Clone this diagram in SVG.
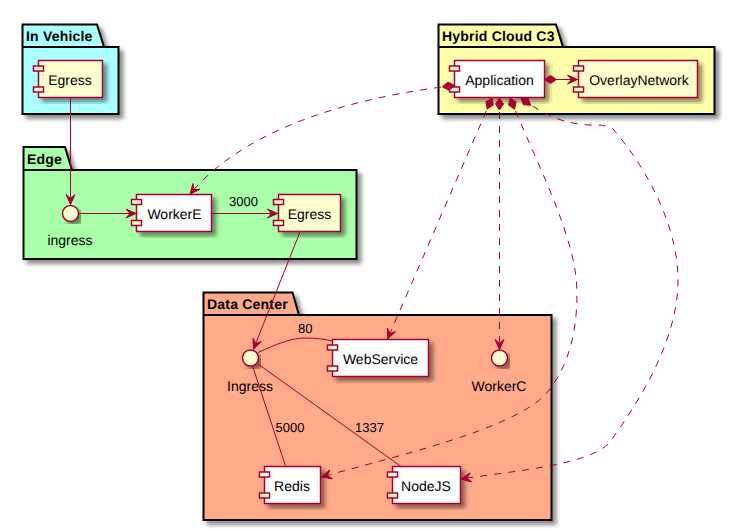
<svg xmlns="http://www.w3.org/2000/svg" width="735" height="531" viewBox="0 0 735 531">
<style>
text{font-family:"Liberation Sans",Arial,sans-serif;font-size:14px;fill:#000;text-rendering:geometricPrecision}
.lbl{font-size:13px}
.pt{font-weight:bold;letter-spacing:.2px}
.pk{stroke:#000;stroke-width:2;filter:url(#sh)}
.c{stroke:#A80036;stroke-width:1.5;fill:#FEFECE}
.w{fill:#fff}
.sr{stroke:#A80036;stroke-width:1.5;fill:#FEFECE}
.cn{fill:none;stroke:#A80036;stroke-width:1}
.d{stroke-dasharray:7,7}
.a{marker-end:url(#ar)}
.s{marker-start:url(#di)}
</style>
<defs>
<filter id="sh" x="-10%" y="-10%" width="125%" height="125%">
<feGaussianBlur in="SourceAlpha" stdDeviation="2"/>
<feOffset dx="4" dy="4"/>
<feComponentTransfer><feFuncA type="linear" slope="0.45"/></feComponentTransfer>
<feMerge><feMergeNode/><feMergeNode in="SourceGraphic"/></feMerge>
</filter>
<marker id="ar" markerUnits="userSpaceOnUse" markerWidth="14" markerHeight="12" viewBox="-11 -6 14 12" refX="0" refY="0" orient="auto" overflow="visible">
<path d="M-10,-4.5 L0,0 L-10,4.5 L-6,0 Z" fill="#A80036" stroke="#A80036"/>
</marker>
<marker id="di" markerUnits="userSpaceOnUse" markerWidth="14" markerHeight="10" viewBox="0 -5 14 10" refX="0" refY="0" orient="auto" overflow="visible">
<path d="M0,0 L6,-4 L12,0 L6,4 Z" fill="#A80036" stroke="#A80036"/>
</marker>
</defs>
<g id="pkg-in-vehicle">
<path class="pk" fill="#AAFFFF" d="M22.5,33 L22.5,24.5 L97,24.5 L104,47 L118.5,47 L118.5,114 L22.5,114 Z"/>
<path d="M22.5,47 L104,47" stroke="#000" stroke-width="2" fill="none"/>
<text class="pt" x="26" y="41">In Vehicle</text>
</g>
<g id="pkg-edge">
<path class="pk" fill="#AAFFAA" d="M23.5,156 L23.5,147 L65,147 L72,170 L356.5,170 L356.5,259 L23.5,259 Z"/>
<path d="M23.5,170 L72,170" stroke="#000" stroke-width="2" fill="none"/>
<text class="pt" x="27" y="164">Edge</text>
</g>
<g id="pkg-hybrid-cloud">
<path class="pk" fill="#FFFFAA" d="M438.5,33 L438.5,24.5 L556,24.5 L563,47 L714.5,47 L714.5,114 L438.5,114 Z"/>
<path d="M438.5,47 L563,47" stroke="#000" stroke-width="2" fill="none"/>
<text class="pt" x="442" y="41">Hybrid Cloud C3</text>
</g>
<g id="pkg-data-center">
<path class="pk" fill="#FFAA88" d="M203.5,301 L203.5,292.5 L292.5,292.5 L299,315 L551.5,315 L551.5,520 L203.5,520 Z"/>
<path d="M203.5,315 L299,315" stroke="#000" stroke-width="2" fill="none"/>
<text class="pt" x="207" y="309">Data Center</text>
</g>
<g id="vehicle-egress">
<rect class="c" filter="url(#sh)" x="38.5" y="60.5" width="64" height="37"/>
<rect class="sr" x="33.5" y="66" width="10" height="5"/><rect class="sr" x="33.5" y="87" width="10" height="5"/>
<text x="70" y="85" text-anchor="middle">Egress</text>
</g>
<g id="edge-ingress">
<circle class="c" filter="url(#sh)" cx="70.5" cy="213.5" r="8"/>
<text x="70" y="245" text-anchor="middle">ingress</text>
</g>
<g id="worker-e">
<rect class="c w" filter="url(#sh)" x="136.5" y="194.5" width="75" height="37"/>
<rect class="sr" x="131.5" y="199.5" width="10" height="5"/><rect class="sr" x="131.5" y="220.5" width="10" height="5"/>
<text x="174.5" y="219" text-anchor="middle">WorkerE</text>
</g>
<g id="edge-egress">
<rect class="c" filter="url(#sh)" x="278.5" y="194.5" width="62" height="37"/>
<rect class="sr" x="273.5" y="199.5" width="10" height="5"/><rect class="sr" x="273.5" y="220.5" width="10" height="5"/>
<text x="309.5" y="219" text-anchor="middle">Egress</text>
</g>
<g id="application">
<rect class="c w" filter="url(#sh)" x="454.5" y="60.5" width="90" height="37"/>
<rect class="sr" x="449.5" y="66" width="10" height="5"/><rect class="sr" x="449.5" y="87" width="10" height="5"/>
<text x="499.5" y="85" text-anchor="middle">Application</text>
</g>
<g id="overlay-network">
<rect class="c" filter="url(#sh)" x="578.5" y="60.5" width="119" height="37"/>
<rect class="sr" x="573.5" y="66" width="10" height="5"/><rect class="sr" x="573.5" y="87" width="10" height="5"/>
<text x="639" y="85" text-anchor="middle">OverlayNetwork</text>
</g>
<g id="dc-ingress">
<circle class="c" filter="url(#sh)" cx="250.5" cy="358" r="8"/>
<text x="250" y="391" text-anchor="middle">Ingress</text>
</g>
<g id="web-service">
<rect class="c w" filter="url(#sh)" x="332.5" y="339.5" width="96" height="37"/>
<rect class="sr" x="327.5" y="345" width="10" height="5"/><rect class="sr" x="327.5" y="366" width="10" height="5"/>
<text x="380.5" y="364" text-anchor="middle">WebService</text>
</g>
<g id="worker-c">
<circle class="c" filter="url(#sh)" cx="499.5" cy="358" r="8"/>
<text x="499" y="391" text-anchor="middle">WorkerC</text>
</g>
<g id="redis">
<rect class="c w" filter="url(#sh)" x="264.5" y="466.5" width="56" height="37"/>
<rect class="sr" x="259.5" y="472" width="10" height="5"/><rect class="sr" x="259.5" y="493" width="10" height="5"/>
<text x="292" y="491" text-anchor="middle">Redis</text>
</g>
<g id="nodejs">
<rect class="c w" filter="url(#sh)" x="392.5" y="466.5" width="68" height="37"/>
<rect class="sr" x="387.5" y="472" width="10" height="5"/><rect class="sr" x="387.5" y="493" width="10" height="5"/>
<text x="426" y="491" text-anchor="middle">NodeJS</text>
</g>
<g id="connectors">
<path class="cn a" d="M70.5,98 L70.5,204.5"/>
<path class="cn a" d="M79,213.5 L136,213.5"/>
<path class="cn a" d="M212,213.5 L277.5,213.5"/>
<text class="lbl" x="229" y="206">3000</text>
<path class="cn a" d="M300,232 L253.5,349"/>
<path class="cn" d="M258,352.5 C275,345 290,338 305,338 C315,338 325,339 332.5,341"/>
<text class="lbl" x="298" y="333">80</text>
<path class="cn" d="M252.5,366 L285.5,466"/>
<text class="lbl" x="275.5" y="432">5000</text>
<path class="cn" d="M258,364 L401,466.5"/>
<text class="lbl" x="355" y="432">1337</text>
<path class="cn a s" d="M544.5,79.5 L577.5,79.5"/>
<path class="cn a s d" d="M454.5,85.5 C370,95 250,122 190,194"/>
<path class="cn a s d" d="M492,98 L387.5,339"/>
<path class="cn a s d" d="M499.5,98 L499.5,349.5"/>
<path class="cn a s d" d="M510,98 C540,170 577,240 577,293 C577,340 565,372 545,395 C510,430 400,455 321.5,477"/>
<path class="cn a s d" d="M521,98 C545,116 565,124 590,125 C600,125 608,125 613,129 C640,160 678,220 678,280 C678,340 640,400 610,442 C590,465 520,470 461,479"/>
</g>
</svg>
